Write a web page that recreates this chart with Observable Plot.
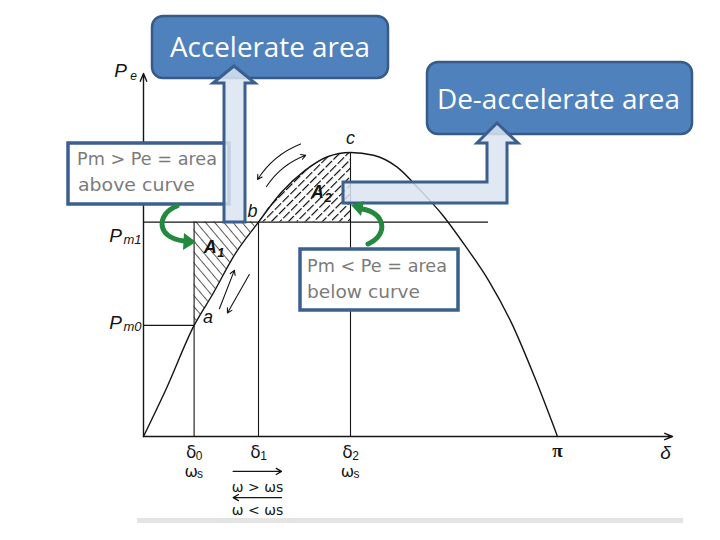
<!DOCTYPE html>
<html>
<head>
<meta charset="utf-8">
<script src="https://cdn.jsdelivr.net/npm/d3@7"></script>
<script src="https://cdn.jsdelivr.net/npm/@observablehq/plot@0.6"></script>
<style>
  body { margin: 0; background: #fff; }
  #chart { width: 720px; height: 540px; overflow: hidden; }
  #chart svg { display: block; overflow: visible; }
</style>
</head>
<body>
<div id="chart"></div>
<script>
// ---- data (δ in degrees, Pe relative to Pmax) ----
const curveDeg = [0, 10, 22, 30, 40, 50, 60, 70, 80, 90, 100, 110, 120, 130, 140, 150, 160, 170, 180];
const curvePe  = [0, 0.17, 0.391, 0.50, 0.645, 0.755, 0.86, 0.935, 0.985, 1.0, 0.99, 0.95, 0.87, 0.78, 0.67, 0.55, 0.40, 0.21, 0];
const Pm0 = 0.391;
const Pm1 = 0.755;
const delta0 = 22, delta1 = 50, delta2 = 90, deltaPi = 180;
const pm1LineEnd = 150;
const xMax = 230, yMax = 1.278;

const xTickPos  = [delta0, delta1, delta2];
const xTickSym  = ["δ", "δ", "δ"];
const xTickSub  = ["0", "1", "2"];
const omegaPos  = [delta0, delta2];

const areaLabelD   = [29, 75.7];
const areaLabelPe  = [0.665, 0.859];
const areaLabelSub = ["1", "2"];

// ---- tables built from the arrays ----
const curve = curveDeg.map((d, i) => ({d, pe: curvePe[i]}));
const a1 = curve.filter(p => p.d >= delta0 && p.d <= delta1);
const a2 = curve.filter(p => p.d >= delta1 && p.d <= delta2);
const pmLines = [{y: Pm1, end: pm1LineEnd}, {y: Pm0, end: delta0}];
const vLines = [{x: delta0, top: Pm1}, {x: delta1, top: Pm1}, {x: delta2, top: 1.0}];
const axes = [{x1: 0, y1: 0, x2: xMax, y2: 0}, {x1: 0, y1: 0, x2: 0, y2: yMax}];
const xTicks = xTickPos.map((d, i) => ({d, sym: xTickSym[i], sub: xTickSub[i]}));
const omegas = omegaPos.map(d => ({d}));
const areaLabels = areaLabelD.map((d, i) => ({d, pe: areaLabelPe[i], sub: areaLabelSub[i]}));
// motion arrows along the curve (annotation)
const motionUp   = [{x1: 33, y1: 0.45, x2: 39.5, y2: 0.585}];
const motionDown = [{x1: 46, y1: 0.57, x2: 36.5, y2: 0.435}];
const swingOut = [{x1: 68.3, y1: 1.03, x2: 49.6, y2: 0.905}];
const swingIn  = [{x1: 53.5, y1: 0.88, x2: 70.5, y2: 0.99}];
const omegaArrows = [
  {x1: delta1 - 11, x2: delta1 + 10, y: -0.123},
  {x1: delta1 + 10, x2: delta1 - 11, y: -0.215}
];

const ink = "#151515";
const italic = {fontFamily: "Liberation Sans", fontStyle: "italic", fill: ink};

const svg = Plot.plot({
  width: 720,
  height: 540,
  x: {domain: [0, xMax], range: [143, 672], axis: null},
  y: {domain: [0, yMax], range: [436, 73], axis: null},
  style: {background: "transparent", overflow: "visible"},
  marks: [
    Plot.areaY(a1, {x: "d", y1: "pe", y2: () => Pm1, fill: "url(#hatchA1)", curve: "monotone-x"}),
    Plot.areaY(a2, {x: "d", y1: () => Pm1, y2: "pe", fill: "url(#hatchA2)", curve: "monotone-x"}),
    Plot.ruleY(pmLines, {y: "y", x1: () => 0, x2: "end", stroke: ink, strokeWidth: 1.2}),
    Plot.ruleX(vLines, {x: "x", y1: () => 0, y2: "top", stroke: ink, strokeWidth: 1.1}),
    Plot.line(curve, {x: "d", y: "pe", curve: "monotone-x", stroke: ink, strokeWidth: 1.4}),
    Plot.arrow(axes, {x1: "x1", y1: "y1", x2: "x2", y2: "y2", stroke: ink, strokeWidth: 1.4, headLength: 9, headAngle: 45}),
    Plot.arrow(motionUp, {x1: "x1", y1: "y1", x2: "x2", y2: "y2", stroke: ink, strokeWidth: 1.1, headLength: 7}),
    Plot.arrow(motionDown, {x1: "x1", y1: "y1", x2: "x2", y2: "y2", stroke: ink, strokeWidth: 1.1, headLength: 7}),
    Plot.arrow(swingOut, {x1: "x1", y1: "y1", x2: "x2", y2: "y2", stroke: ink, strokeWidth: 1.1, headLength: 7, bend: -18}),
    Plot.arrow(swingIn, {x1: "x1", y1: "y1", x2: "x2", y2: "y2", stroke: ink, strokeWidth: 1.1, headLength: 7, bend: 18}),
    Plot.arrow(omegaArrows, {x1: "x1", y1: "y", x2: "x2", y2: "y", stroke: ink, strokeWidth: 1.3, headLength: 7}),
    // y-axis labels
    Plot.text([{y: yMax}], {x: () => 0, y: "y", text: () => "P", dx: -23, dy: -3, fontSize: 19, ...italic}),
    Plot.text([{y: yMax}], {x: () => 0, y: "y", text: () => "e", dx: -10, dy: 3, fontSize: 12, ...italic}),
    Plot.text([{y: Pm1}], {x: () => 0, y: "y", text: () => "P", dx: -28, dy: 14, fontSize: 19, ...italic}),
    Plot.text([{y: Pm1}], {x: () => 0, y: "y", text: () => "m1", dx: -20, dy: 18, fontSize: 13, textAnchor: "start", ...italic}),
    Plot.text([{y: Pm0}], {x: () => 0, y: "y", text: () => "P", dx: -28, dy: -3, fontSize: 19, ...italic}),
    Plot.text([{y: Pm0}], {x: () => 0, y: "y", text: () => "m0", dx: -20, dy: 1, fontSize: 13, textAnchor: "start", ...italic}),
    // x-axis labels
    Plot.text(xTicks, {x: "d", y: () => 0, text: "sym", dx: -3, dy: 16, fontSize: 17, fontFamily: "DejaVu Sans", fill: ink}),
    Plot.text(xTicks, {x: "d", y: () => 0, text: "sub", dx: 5, dy: 20, fontSize: 12, fontFamily: "Liberation Sans", fill: ink}),
    Plot.text(omegas, {x: "d", y: () => 0, text: () => "ω", dx: -3, dy: 35, fontSize: 16, fontFamily: "DejaVu Sans", fill: ink}),
    Plot.text(omegas, {x: "d", y: () => 0, text: () => "s", dx: 6, dy: 38, fontSize: 12, fontFamily: "Liberation Sans", fill: ink}),
    Plot.text([{d: deltaPi}], {x: "d", y: () => 0, text: () => "π", dy: 14, fontSize: 19, fontWeight: "bold", fontFamily: "Liberation Serif", fill: ink}),
    Plot.text([{d: xMax}], {x: "d", y: () => 0, text: () => "δ", dx: -7, dy: 16, fontSize: 19, ...italic}),
    Plot.text([{d: delta1, y: -0.18}], {x: "d", y: "y", text: () => "ω > ωs", dx: -1, fontSize: 14, fontFamily: "DejaVu Sans", fill: ink}),
    Plot.text([{d: delta1, y: -0.262}], {x: "d", y: "y", text: () => "ω < ωs", dx: -1, fontSize: 14, fontFamily: "DejaVu Sans", fill: ink}),
    // point labels a, b, c
    Plot.text([{d: delta0, pe: Pm0}], {x: "d", y: "pe", text: () => "a", dx: 14, dy: -8, fontSize: 18, ...italic}),
    Plot.text([{d: delta1, pe: Pm1}], {x: "d", y: "pe", text: () => "b", dx: -6, dy: -11, fontSize: 18, ...italic}),
    Plot.text([{d: delta2, pe: 1.0}], {x: "d", y: "pe", text: () => "c", dy: -14, fontSize: 18, ...italic}),
    // area labels
    Plot.text(areaLabels, {x: "d", y: "pe", text: () => "A", fontSize: 18, fontWeight: "bold", ...italic}),
    Plot.text(areaLabels, {x: "d", y: "pe", text: "sub", dx: 7, dy: 5, textAnchor: "start", fontSize: 13, fontWeight: "bold", ...italic})
  ]
});

// ---- hatch patterns ----
const defs = d3.select(svg).insert("defs", ":first-child");
const p1 = defs.append("pattern").attr("id", "hatchA1").attr("patternUnits", "userSpaceOnUse")
  .attr("width", 7).attr("height", 7).attr("patternTransform", "rotate(-40)");
p1.append("rect").attr("width", 7).attr("height", 7).attr("fill", "#fff");
p1.append("line").attr("x1", 0).attr("y1", 0).attr("x2", 0).attr("y2", 7).attr("stroke", ink).attr("stroke-width", 1.4);
const p2 = defs.append("pattern").attr("id", "hatchA2").attr("patternUnits", "userSpaceOnUse")
  .attr("width", 6).attr("height", 11).attr("patternTransform", "rotate(45)");
p2.append("rect").attr("width", 6).attr("height", 11).attr("fill", "#fff");
p2.append("line").attr("x1", 0.5).attr("y1", 0).attr("x2", 0.5).attr("y2", 9).attr("stroke", "#000").attr("stroke-width", 1.3);

// ---- callout annotations (drawn on top, in pixel layout) ----
const g = d3.select(svg).append("g").attr("class", "callouts").attr("text-anchor", "start");
const boxStroke = "#3b5f8e";
const arrowFill = "#dbe5f1";
g.append("rect").attr("x", 137).attr("y", 518).attr("width", 546).attr("height", 5).attr("fill", "#e4e4e4");

function outlineBox(x, y, w, h, lines) {
  g.append("rect").attr("x", x).attr("y", y).attr("width", w).attr("height", h)
    .attr("fill", "#fff").attr("stroke", boxStroke).attr("stroke-width", 3.5);
  lines.forEach(l => g.append("text").attr("x", l.x).attr("y", l.y).text(l.t)
    .attr("text-anchor", "start")
    .attr("font-family", "DejaVu Sans").attr("font-size", 17).attr("fill", "#7b7b7b")
    .attr("textLength", l.len).attr("lengthAdjust", "spacingAndGlyphs"));
}
function filledBox(x, y, w, h, t, tx, ty, len, fs) {
  g.append("rect").attr("x", x).attr("y", y).attr("width", w).attr("height", h).attr("rx", 11)
    .attr("fill", "#4f81bd").attr("stroke", "#375a87").attr("stroke-width", 2.5);
  g.append("text").attr("x", tx).attr("y", ty).text(t).attr("fill", "#fff")
    .attr("text-anchor", "start")
    .attr("font-family", "Open Sans").attr("font-size", fs)
    .attr("textLength", len).attr("lengthAdjust", "spacingAndGlyphs");
}
function blockArrow(pts) {
  g.append("polygon").attr("points", pts.map(p => p.join(",")).join(" "))
    .attr("fill", arrowFill).attr("fill-opacity", 0.85).attr("stroke", boxStroke).attr("stroke-width", 3).attr("stroke-linejoin", "miter");
}
function greenArrow(d, tip, base1, base2) {
  g.append("path").attr("d", d).attr("fill", "none").attr("stroke", "#23893f").attr("stroke-width", 5).attr("stroke-linecap", "round");
  g.append("polygon").attr("points", [tip, base1, base2].map(p => p.join(",")).join(" ")).attr("fill", "#23893f");
}

outlineBox(68, 143, 161, 61, [{x: 77, y: 165, t: "Pm > Pe = area", len: 140}, {x: 78, y: 191, t: "above curve", len: 117}]);
filledBox(152, 16, 236, 62, "Accelerate area", 170, 57, 200, 27);
blockArrow([[224, 222], [224, 83], [213, 83], [234, 66], [255, 83], [245, 83], [245, 222]]);
filledBox(427, 62, 265, 72, "De-accelerate area", 437, 109, 243, 28);
blockArrow([[343, 182], [487, 182], [487, 143], [477, 143], [497, 123], [518, 143], [507, 143], [507, 203], [343, 203]]);
outlineBox(300, 249, 158, 61, [{x: 307, y: 272, t: "Pm < Pe = area", len: 140}, {x: 307, y: 298, t: "below curve", len: 113}]);
greenArrow("M177,206 C156,214 156,238 184,241", [196, 242], [184, 233], [183, 250]);
greenArrow("M368,244 C390,234 384,212 362,209", [351, 205], [364, 201], [361, 216]);

document.getElementById("chart").appendChild(svg);
</script>
</body>
</html>
